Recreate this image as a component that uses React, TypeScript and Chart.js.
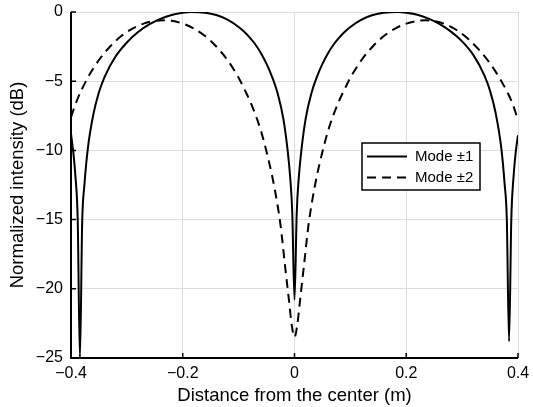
import React, { useEffect, useRef } from 'react';
import { Chart, registerables } from 'chart.js';

Chart.register(...registerables);

const seriesLabels = ['Mode ±1', 'Mode ±2'];
const xTickValues = [-0.4, -0.2, 0, 0.2, 0.4];
const yTickValues = [-25, -20, -15, -10, -5, 0];
const xTitle = 'Distance from the center (m)';
const yTitle = 'Normalized intensity (dB)';

const mode1X = [-0.4, -0.396, -0.392, -0.388, -0.384, -0.38, -0.376, -0.37, -0.36, -0.35, -0.34, -0.32, -0.3, -0.28, -0.26, -0.24, -0.22, -0.2, -0.185, -0.16, -0.14, -0.12, -0.1, -0.09, -0.08, -0.07, -0.06, -0.05, -0.04, -0.03, -0.02, -0.012, -0.008, -0.004, 0, 0.004, 0.008, 0.012, 0.02, 0.03, 0.04, 0.05, 0.06, 0.07, 0.08, 0.09, 0.1, 0.12, 0.14, 0.16, 0.185, 0.2, 0.22, 0.24, 0.26, 0.28, 0.3, 0.32, 0.34, 0.35, 0.36, 0.37, 0.376, 0.38, 0.384, 0.388, 0.392, 0.396, 0.4];
const mode1Y = [-8.8, -10.1, -11.9, -15.0, -25, -15.2, -12.5, -9.9, -7.4, -5.8, -4.7, -3.2, -2.2, -1.45, -0.9, -0.5, -0.22, -0.06, 0, -0.05, -0.22, -0.55, -1.08, -1.43, -1.85, -2.35, -2.98, -3.75, -4.7, -5.9, -7.7, -10.1, -11.8, -14.5, -20.8, -14.5, -11.8, -10.1, -7.7, -5.9, -4.7, -3.75, -2.98, -2.35, -1.85, -1.43, -1.08, -0.55, -0.22, -0.05, 0, -0.05, -0.2, -0.48, -0.88, -1.42, -2.12, -3.1, -4.6, -5.7, -7.3, -9.8, -12.4, -15.0, -23.8, -15.0, -11.9, -10.1, -8.9];

const mode2X = [-0.4, -0.39, -0.37, -0.35, -0.33, -0.31, -0.29, -0.27, -0.25, -0.235, -0.22, -0.2, -0.18, -0.16, -0.14, -0.12, -0.1, -0.09, -0.08, -0.07, -0.06, -0.05, -0.04, -0.031, -0.025, -0.017, -0.01, -0.005, 0, 0.005, 0.01, 0.017, 0.025, 0.031, 0.04, 0.05, 0.06, 0.07, 0.08, 0.09, 0.1, 0.12, 0.14, 0.16, 0.18, 0.2, 0.22, 0.235, 0.25, 0.27, 0.29, 0.31, 0.33, 0.35, 0.37, 0.39, 0.4];
const mode2Y = [-7.6, -6.45, -4.75, -3.47, -2.49, -1.74, -1.2, -0.84, -0.64, -0.6, -0.64, -0.84, -1.2, -1.74, -2.49, -3.47, -4.75, -5.55, -6.4, -7.4, -8.6, -10.1, -11.85, -13.8, -15.4, -18.3, -20.8, -22.6, -23.5, -22.6, -20.8, -18.3, -15.4, -13.8, -11.85, -10.1, -8.6, -7.4, -6.4, -5.55, -4.75, -3.47, -2.49, -1.74, -1.2, -0.84, -0.64, -0.6, -0.65, -0.88, -1.3, -1.92, -2.72, -3.72, -4.98, -6.6, -7.8];

const FONT = '"Liberation Sans", Arial, Helvetica, sans-serif';
const DASH = [9, 6];

function fmt(v: number): string {
  const r = Math.round(v * 10) / 10;
  const s = Math.abs(r).toString();
  return r < 0 ? '\u2212' + s : s;
}

const innerTicksPlugin = {
  id: 'innerTicks',
  afterDatasetsDraw(chart: any) {
    const { ctx, chartArea } = chart;
    const xs = chart.scales.x;
    const ys = chart.scales.y;
    ctx.save();
    ctx.strokeStyle = '#000';
    ctx.lineWidth = 1.5;
    ctx.beginPath();
    xTickValues.forEach((v) => {
      const px = xs.getPixelForValue(v);
      ctx.moveTo(px, chartArea.bottom);
      ctx.lineTo(px, chartArea.bottom - 5);
    });
    yTickValues.forEach((v) => {
      const py = ys.getPixelForValue(v);
      ctx.moveTo(chartArea.left, py);
      ctx.lineTo(chartArea.left + 5, py);
    });
    ctx.stroke();
    ctx.lineWidth = 2;
    ctx.beginPath();
    ctx.moveTo(chartArea.left, chartArea.top);
    ctx.lineTo(chartArea.left, chartArea.bottom);
    ctx.lineTo(chartArea.right, chartArea.bottom);
    ctx.stroke();
    ctx.restore();
  },
};

const legendPlugin = {
  id: 'customLegend',
  afterDraw(chart: any) {
    const { ctx, chartArea } = chart;
    const left = chartArea.right - 156;
    const top = chartArea.top + 131;
    const w = 118;
    const h = 47;
    ctx.save();
    ctx.fillStyle = '#fff';
    ctx.fillRect(left, top, w, h);
    ctx.strokeStyle = '#000';
    ctx.lineWidth = 1.5;
    ctx.strokeRect(left, top, w, h);
    ctx.font = '15px ' + FONT;
    ctx.textBaseline = 'middle';
    ctx.fillStyle = '#000';
    const rows = [top + 13.5, top + 34.5];
    rows.forEach((ry, i) => {
      ctx.beginPath();
      ctx.lineWidth = 2;
      ctx.setLineDash(i === 0 ? [] : DASH);
      ctx.moveTo(left + 5, ry);
      ctx.lineTo(left + 45, ry);
      ctx.stroke();
      ctx.setLineDash([]);
      ctx.fillText(seriesLabels[i], left + 53, ry);
    });
    ctx.restore();
  },
};

export default function App() {
  const ref = useRef<HTMLCanvasElement | null>(null);
  useEffect(() => {
    document.body.style.margin = '0';
    const canvas = ref.current;
    if (!canvas) return;
    const chart = new Chart(canvas, {
      type: 'scatter',
      data: {
        datasets: [
          {
            label: seriesLabels[0],
            data: mode1X.map((x, i) => ({ x, y: mode1Y[i] })),
            showLine: true,
            borderColor: '#000',
            borderWidth: 2,
            pointRadius: 0,
            cubicInterpolationMode: 'monotone',
          },
          {
            label: seriesLabels[1],
            data: mode2X.map((x, i) => ({ x, y: mode2Y[i] })),
            showLine: true,
            borderColor: '#000',
            borderWidth: 2,
            borderDash: DASH,
            pointRadius: 0,
            cubicInterpolationMode: 'monotone',
          },
        ],
      },
      options: {
        animation: false,
        responsive: false,
        maintainAspectRatio: false,
        layout: { padding: { top: 12, right: 15, left: 0, bottom: 0 } },
        plugins: {
          legend: { display: false },
          tooltip: { enabled: false },
        },
        scales: {
          x: {
            type: 'linear',
            min: -0.4,
            max: 0.4,
            afterBuildTicks: (scale: any) => {
              scale.ticks = xTickValues.map((v) => ({ value: v }));
            },
            afterFit: (scale: any) => {
              scale.height = 49;
              scale.paddingLeft = 0;
              scale.paddingRight = 0;
            },
            grid: { color: '#dcdcdc', lineWidth: 1, drawTicks: false },
            border: { display: false },
            ticks: {
              color: '#000',
              font: { family: FONT, size: 16 },
              padding: 6,
              maxRotation: 0,
              callback: (v: any) => fmt(Number(v)),
            },
            title: {
              display: true,
              text: xTitle,
              color: '#000',
              font: { family: FONT, size: 18.5 },
              padding: { top: 2, bottom: 0 },
            },
          },
          y: {
            type: 'linear',
            min: -25,
            max: 0,
            afterBuildTicks: (scale: any) => {
              scale.ticks = yTickValues.map((v) => ({ value: v }));
            },
            afterFit: (scale: any) => {
              scale.width = 71;
              scale.paddingTop = 0;
              scale.paddingBottom = 0;
            },
            grid: { color: '#dcdcdc', lineWidth: 1, drawTicks: false },
            border: { display: false },
            ticks: {
              color: '#000',
              font: { family: FONT, size: 16 },
              padding: 8,
              callback: (v: any) => fmt(Number(v)),
            },
            title: {
              display: true,
              text: yTitle,
              color: '#000',
              font: { family: FONT, size: 18.5 },
              padding: { top: 7, bottom: 0 },
            },
          },
        },
      },
      plugins: [innerTicksPlugin, legendPlugin],
    } as any);
    return () => chart.destroy();
  }, []);
  return (
    <div style={{ width: 533, height: 407, background: '#fff' }}>
      <canvas ref={ref} width={533} height={407} style={{ display: 'block' }} />
    </div>
  );
}
